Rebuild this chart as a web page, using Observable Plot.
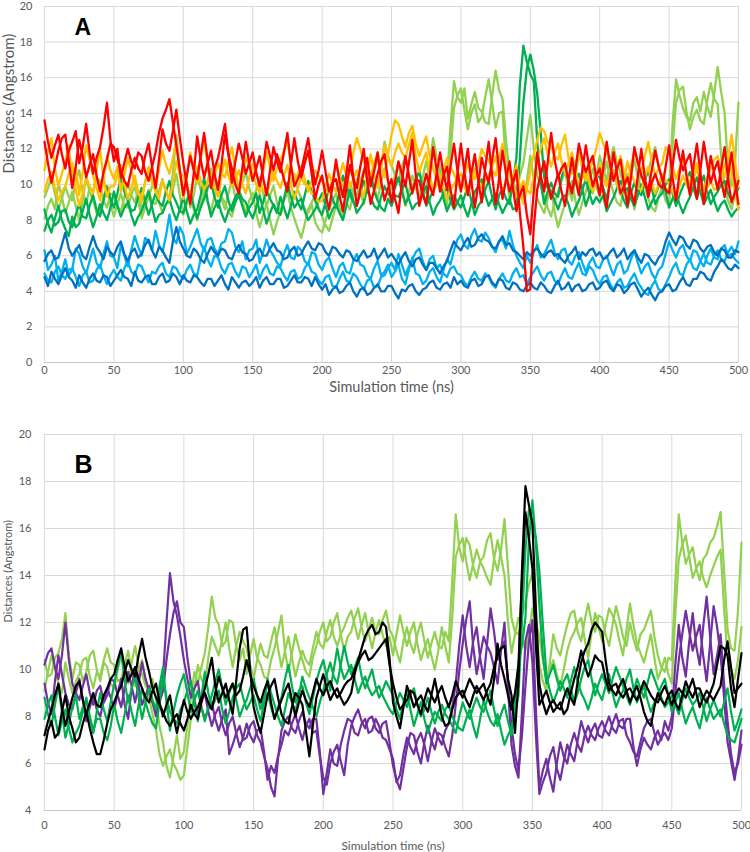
<!DOCTYPE html>
<html>
<head>
<meta charset="utf-8">
<script src="https://cdn.jsdelivr.net/npm/d3@7"></script>
<script src="https://cdn.jsdelivr.net/npm/@observablehq/plot@0.6"></script>
<style>
  body { margin: 0; background: #fff; }
  #chart { width: 750px; height: 852px; position: relative; }
  #chart svg { display: block; }
</style>
</head>
<body>
<div id="chart"></div>
<script>
// ---------- shared ----------
const step = 2.5; // sampling interval (ns)
const xTicks = [0, 50, 100, 150, 200, 250, 300, 350, 400, 450, 500];
const yTicksA = [0, 2, 4, 6, 8, 10, 12, 14, 16, 18, 20];
const yTicksB = [4, 6, 8, 10, 12, 14, 16, 18, 20];
const xTitle = "Simulation time (ns)";
const yTitle = "Distances (Angstrom)";
const panelA = "A";
const panelB = "B";

// ---------- Panel A series (values every 2.5 ns, 0–500) ----------
const blueLightA1 = [
6.3,5.2,5.5,6.0,4.6,5.1,5.8,4.9,5.2,6.4,6.1,5.4,5.0,5.7,6.4,5.6,5.3,6.1,6.8,6.0,
5.9,5.3,6.6,6.0,5.4,6.3,7.1,6.5,6.0,7.0,6.8,6.3,7.4,6.6,6.2,7.1,8.3,7.0,6.7,7.6,
7.2,6.1,6.5,7.0,7.5,6.7,6.3,6.9,7.0,6.4,6.1,6.7,6.8,7.5,7.3,6.5,6.2,6.8,5.8,6.3,
6.4,6.9,5.6,6.2,6.9,6.3,6.0,5.6,5.4,6.1,6.6,5.9,5.8,6.5,6.3,5.7,5.5,6.2,6.1,5.5,
5.2,5.7,5.9,5.3,4.8,5.4,5.6,5.1,5.0,5.7,6.1,5.5,5.4,4.9,4.7,5.3,5.7,4.9,5.1,5.5,
4.8,5.1,5.5,4.7,4.4,5.2,5.9,5.0,4.9,4.4,4.6,5.1,5.3,4.8,4.5,5.2,5.8,5.5,6.3,6.9,
7.2,6.6,6.4,7.1,7.5,6.9,6.8,7.3,7.0,6.5,6.2,6.8,6.9,6.4,7.4,6.6,6.0,5.6,5.3,6.0,
5.6,6.2,6.6,5.9,6.1,6.5,6.9,6.2,5.8,6.3,6.4,5.7,5.5,6.0,6.2,5.6,5.1,5.6,5.9,5.4,
5.3,5.8,6.0,5.4,4.9,5.5,5.7,5.0,5.2,5.8,6.3,5.6,5.0,5.4,5.6,5.0,4.7,5.2,5.4,6.1,
6.8,6.3,5.9,6.4,6.6,6.0,5.7,6.3,6.2,5.7,5.4,6.0,6.4,5.9,5.8,6.4,6.6,6.0,6.1,5.8,
5.6];
const blueLightA2 = [
5.0,4.6,4.5,5.1,5.4,4.9,4.7,5.2,5.3,4.8,4.3,4.9,5.1,4.5,4.6,5.2,5.5,4.9,4.4,4.9,
5.2,4.8,4.6,5.3,5.7,5.1,4.9,5.5,5.4,4.9,4.5,5.1,5.0,5.4,5.6,5.0,4.8,5.4,5.3,4.9,
4.7,5.2,5.5,5.0,4.9,5.8,6.5,5.8,5.4,6.0,5.9,5.3,5.0,5.5,5.6,5.1,4.8,5.4,5.3,4.8,
5.1,5.5,4.7,5.2,5.5,5.0,4.9,5.4,5.3,4.9,4.6,5.1,5.2,4.7,4.8,5.3,5.6,5.1,5.0,4.6,
4.4,4.8,4.9,4.3,4.2,4.7,5.1,4.6,4.5,5.0,4.8,4.4,4.1,4.6,4.7,4.2,4.3,4.8,4.9,5.3,
5.6,5.2,6.1,5.5,4.9,5.4,5.8,6.2,6.4,5.7,5.2,5.8,6.0,5.3,5.5,5.0,4.8,5.3,5.4,5.0,
4.9,4.5,4.3,4.8,5.1,4.7,4.6,5.0,4.8,4.4,4.2,4.7,5.0,4.6,4.5,5.0,5.3,4.8,4.9,4.4,
4.8,5.1,5.4,4.9,4.6,5.0,5.1,4.6,4.4,4.9,5.3,4.8,4.7,5.2,5.6,5.0,4.9,5.4,5.2,4.7,
4.4,4.8,4.9,4.4,4.1,4.5,4.7,4.2,4.3,4.7,5.0,4.5,4.2,3.9,3.8,4.3,4.6,4.1,4.0,4.4,
4.8,5.3,5.6,5.0,4.9,5.5,5.8,5.3,5.2,5.7,6.1,5.6,5.5,6.0,6.3,5.8,5.7,6.2,6.5,6.1,
6.8];
const blueDarkA1 = [
5.7,6.1,6.3,5.8,5.9,6.6,7.3,6.4,6.0,6.3,6.6,6.0,5.8,6.5,7.1,6.5,6.2,5.8,6.5,6.2,
6.0,6.5,6.8,6.1,5.7,6.2,6.4,5.9,6.1,6.6,6.9,6.3,5.9,6.5,6.3,5.9,5.6,6.8,7.6,6.8,
6.4,6.0,5.9,6.4,6.2,5.8,5.6,6.1,6.5,6.2,6.0,6.4,6.3,5.9,5.8,6.3,6.6,6.2,6.1,5.7,
5.8,6.2,6.4,6.0,6.0,6.4,6.7,6.3,6.2,5.8,5.9,6.3,6.5,6.0,6.1,6.5,6.8,6.4,6.3,6.7,
6.6,6.2,6.0,6.5,6.4,6.1,5.9,6.3,6.2,5.8,5.7,6.0,6.3,5.9,6.0,6.4,5.8,6.1,6.4,5.9,
6.1,5.8,5.5,5.9,6.2,5.7,5.4,5.8,5.9,5.5,5.2,5.6,5.6,5.3,5.0,5.4,5.7,6.3,6.8,6.5,
6.3,6.7,7.0,6.5,6.6,7.0,7.2,6.9,6.8,6.5,6.4,6.8,7.1,6.6,6.7,6.3,6.2,6.0,5.8,6.2,
6.0,6.3,6.4,6.1,5.9,6.2,6.3,6.0,6.1,5.8,5.6,6.0,6.2,6.5,5.8,6.2,6.0,6.3,6.4,6.0,
6.2,5.8,5.9,6.2,6.4,5.9,6.1,6.4,5.8,6.1,6.3,5.9,5.6,6.1,6.0,5.7,5.5,5.9,6.1,6.8,
7.3,6.9,6.6,7.1,7.0,6.6,6.4,6.9,6.8,6.4,6.2,6.5,6.6,6.2,6.0,6.4,6.3,5.9,5.9,6.3,
6.2];
const blueDarkA2 = [
4.8,4.3,5.1,4.7,4.4,4.9,5.3,4.8,4.6,4.2,4.9,4.5,4.2,4.7,5.0,4.6,4.5,4.9,4.8,4.3,
4.6,4.9,5.2,4.8,4.7,4.3,5.1,4.6,4.5,4.8,4.9,4.4,4.4,4.8,5.0,4.5,4.6,5.0,4.8,4.4,
4.9,4.6,4.5,4.9,4.8,4.5,4.3,4.7,4.7,4.3,4.6,4.9,4.4,4.1,4.8,4.5,4.2,4.5,4.6,4.3,
4.5,4.8,4.2,4.6,4.8,4.4,4.4,4.7,4.7,4.2,4.3,4.6,4.9,4.5,4.5,4.8,4.7,4.3,4.8,4.4,
4.1,4.4,3.8,4.1,4.3,3.9,4.0,4.3,4.5,4.0,3.7,4.1,4.2,3.8,3.9,4.2,4.4,4.0,4.0,4.3,
4.3,3.9,3.6,4.1,4.0,4.3,4.4,4.0,3.8,4.1,4.2,4.5,4.6,4.2,4.1,4.4,4.5,4.2,4.8,4.4,
4.6,4.3,4.2,4.6,4.7,4.3,4.4,4.8,4.9,4.5,4.3,4.7,4.6,4.2,4.1,4.5,4.4,4.1,4.0,4.3,
4.5,4.2,4.1,4.5,4.3,4.0,3.9,4.3,4.6,4.1,4.2,4.5,4.0,4.3,4.4,4.0,4.1,4.4,4.5,4.1,
4.2,4.5,4.6,4.2,4.0,4.4,4.3,3.9,4.1,4.4,4.5,4.1,3.7,4.0,4.2,3.8,3.5,3.9,4.0,4.3,
4.4,4.0,4.1,4.5,4.8,4.4,4.3,4.7,4.7,5.1,5.0,4.7,4.6,5.1,5.4,5.8,5.6,5.3,5.2,5.5,
5.3];
const greenLightA1 = [
9.3,9.8,10.4,9.5,8.6,9.2,9.9,9.3,9.1,10.2,10.8,9.6,8.9,9.8,9.6,10.4,10.2,9.1,8.7,9.5,
9.4,8.8,8.5,9.3,10.1,9.4,9.0,9.6,8.6,9.1,9.7,9.0,8.9,9.6,10.3,9.5,9.2,10.6,12.8,10.8,
9.6,10.2,8.7,9.4,10.5,9.7,9.3,10.2,10.9,10.1,9.8,9.2,8.6,9.5,10.2,9.3,9.5,10.1,10.7,9.8,
9.1,9.7,10.4,9.5,8.8,9.4,9.9,9.0,8.3,9.1,9.5,10.1,10.6,9.7,9.2,8.6,8.4,8.9,7.9,7.5,
7.3,8.0,8.6,9.1,9.5,8.7,8.2,9.3,10.1,9.5,9.4,10.2,10.8,10.3,9.9,10.7,11.4,11.0,12.4,11.6,
11.1,10.5,10.2,11.0,11.6,10.6,9.8,10.4,10.7,10.0,9.5,11.1,12.6,11.5,11.0,10.6,10.3,13.2,15.8,14.9,
14.6,15.4,13.7,14.5,15.2,14.3,14.1,13.5,13.4,15.0,16.4,15.3,14.8,12.5,10.6,10.1,9.7,10.5,11.2,12.6,
13.9,12.0,10.5,9.9,9.4,8.7,8.2,9.0,9.6,10.2,10.7,9.8,9.1,10.3,11.8,11.0,10.4,9.8,9.5,10.4,
11.6,10.9,10.2,11.3,12.1,11.2,10.6,9.9,9.3,10.5,11.4,10.4,9.8,10.3,10.7,11.5,12.1,11.0,10.3,9.8,
9.6,13.4,15.9,15.0,14.3,13.8,13.6,14.6,14.9,14.1,15.2,14.4,13.8,15.1,16.6,15.2,14.0,10.8,9.9,11.2,
14.6];
const greenLightA2 = [
8.1,8.8,9.2,8.6,10.1,9.3,8.4,9.0,9.6,8.8,8.0,9.1,10.4,9.6,9.1,8.4,8.5,9.3,9.8,8.9,
8.2,8.9,9.5,8.8,8.7,9.4,9.9,9.1,8.1,8.7,9.3,9.9,10.1,9.0,8.4,8.9,9.0,9.7,10.6,9.4,
8.3,8.9,9.4,8.6,8.0,8.9,9.6,9.0,8.5,9.4,10.1,9.3,9.0,8.5,8.2,9.0,9.7,9.1,8.4,9.1,
9.5,8.4,7.6,8.3,8.9,8.0,7.2,7.9,8.5,9.2,9.6,8.7,8.1,7.5,7.0,7.8,8.6,9.0,9.4,8.7,
8.2,7.7,7.4,8.1,8.8,9.3,9.7,9.0,8.6,9.5,10.3,9.6,8.9,9.8,10.6,9.9,9.2,10.1,10.9,10.2,
9.7,10.5,11.2,10.0,8.8,9.6,10.5,9.8,9.2,10.4,11.3,10.4,9.6,10.3,10.9,9.5,8.7,11.8,14.3,15.0,
15.4,14.2,13.1,14.0,14.5,13.5,13.8,14.9,15.9,14.6,13.2,14.0,14.1,11.0,9.2,9.9,10.6,9.8,9.1,10.2,
11.6,10.3,9.2,8.8,8.4,9.2,9.7,8.5,7.6,8.3,8.9,9.6,10.2,9.1,8.3,9.0,9.6,10.3,10.9,9.9,
9.3,10.4,11.3,10.2,9.5,9.0,8.8,9.8,10.6,9.5,8.6,9.8,10.9,9.9,9.2,8.7,8.5,9.3,9.9,9.1,
8.8,12.2,14.6,15.3,15.5,14.1,13.1,13.8,14.2,13.6,13.4,14.7,15.7,14.8,14.5,11.6,9.7,9.1,8.6,9.5,
10.4];
const greenA1 = [
7.4,8.0,8.3,7.7,7.9,8.5,8.6,7.9,7.6,8.3,8.9,8.2,8.1,8.8,9.4,8.6,8.2,9.1,9.9,9.2,
8.7,9.5,10.4,9.6,9.1,8.5,8.6,9.3,9.8,9.0,8.3,8.9,9.5,9.0,8.8,9.6,10.2,9.4,9.0,8.5,
8.4,9.1,9.6,8.8,8.1,8.7,9.2,9.8,10.1,9.3,8.7,9.4,9.9,9.1,8.5,9.0,9.4,8.8,8.2,8.7,
9.0,9.5,8.4,9.0,9.7,9.2,8.8,8.4,9.3,8.7,8.1,8.8,9.6,9.0,8.6,9.4,10.2,9.6,9.1,8.6,
8.3,9.0,9.8,9.2,8.7,9.6,10.5,9.8,9.4,9.0,8.8,9.5,10.2,9.6,9.3,8.8,8.6,9.3,9.9,9.5,
9.2,9.8,10.4,9.6,8.9,9.3,9.6,10.2,10.8,9.7,8.8,9.2,9.7,10.0,10.3,9.2,8.5,9.0,9.4,9.0,
8.7,9.3,9.9,9.1,8.3,8.8,9.1,9.7,10.2,9.3,8.6,9.4,9.8,9.2,8.9,10.2,11.5,15.6,17.8,16.9,
16.2,15.8,12.4,10.1,8.9,9.6,10.1,9.5,9.3,10.4,11.0,10.2,9.7,10.3,10.6,9.7,8.8,9.4,9.9,10.5,
10.4,9.8,9.2,10.1,10.8,10.0,9.6,9.1,8.7,9.5,10.1,9.6,9.4,10.2,10.9,9.8,8.9,9.3,9.5,10.0,
10.3,9.5,8.8,9.4,9.9,10.3,10.7,9.8,9.2,9.9,10.5,9.6,8.9,9.3,9.6,10.0,10.2,9.5,9.1,9.4,
9.8];
const greenA2 = [
8.6,7.8,7.3,8.1,8.8,8.0,7.5,7.1,8.2,7.6,7.8,8.5,9.2,8.3,7.6,8.2,8.9,8.4,8.0,8.7,
9.6,8.8,8.2,8.7,9.0,8.3,7.7,8.2,8.5,9.1,9.6,8.7,7.9,8.3,8.4,8.9,9.2,8.5,8.0,8.6,
9.3,8.5,7.8,8.3,8.6,9.4,10.4,9.1,8.2,8.7,9.1,8.4,7.9,8.5,8.8,9.3,9.6,9.2,9.0,8.5,
8.1,8.7,9.4,8.6,7.8,8.4,8.9,8.5,8.3,9.2,10.1,9.3,8.7,9.0,9.2,8.5,8.0,8.3,8.6,9.1,
9.5,8.8,8.1,8.6,8.9,8.4,8.0,8.8,9.7,9.1,8.4,8.7,9.0,9.8,10.6,9.6,9.1,8.7,8.5,9.2,
8.8,9.4,9.3,9.7,10.1,9.2,8.6,8.9,9.0,9.5,9.9,9.0,8.3,8.8,9.1,9.5,9.8,9.1,8.6,9.0,
9.4,8.7,8.2,8.9,9.6,9.9,10.3,9.4,8.8,9.2,9.5,8.9,8.4,8.8,9.2,8.6,8.7,11.5,14.6,16.5,
17.3,16.4,15.1,12.9,10.4,9.8,9.6,9.1,8.6,9.2,9.4,8.9,8.2,8.7,9.1,9.7,10.3,9.5,8.9,9.3,
9.0,9.4,8.5,8.9,9.3,9.8,10.2,9.6,9.8,9.2,8.8,9.4,10.0,9.3,8.6,9.0,9.4,9.9,10.5,9.6,
8.7,9.2,9.5,8.9,8.4,8.9,9.3,9.9,10.4,9.6,8.9,9.3,9.7,9.1,8.5,8.9,9.1,8.6,8.2,8.5,
8.7];
const orangeA1 = [
10.8,11.9,12.6,10.9,9.9,10.6,11.3,12.2,10.2,11.0,9.4,10.7,12.2,11.4,10.5,9.8,9.1,10.2,11.6,10.8,
10.3,11.0,9.6,10.5,11.5,10.8,10.0,9.5,9.3,10.1,10.8,10.2,9.7,10.9,11.9,11.1,10.6,11.5,12.4,10.7,
9.2,10.4,11.8,10.9,10.1,11.4,12.6,11.0,9.8,10.5,11.2,10.6,10.4,11.3,12.1,10.8,9.7,10.6,11.5,11.0,
10.6,10.0,9.5,10.7,11.8,11.0,10.2,10.9,11.4,11.9,12.4,11.2,10.1,10.6,11.0,10.3,9.6,10.2,10.8,10.5,
10.2,9.8,9.5,10.3,11.1,10.4,9.9,10.2,10.7,11.8,12.6,12.0,11.3,10.8,10.5,11.2,11.8,11.0,10.4,11.7,
12.8,13.6,13.4,12.7,12.1,12.9,13.3,12.3,11.6,12.2,12.7,11.6,10.9,10.3,9.8,10.7,11.5,11.0,10.6,10.1,
9.7,10.5,11.2,10.6,10.3,11.1,12.0,11.6,11.4,10.8,10.5,11.5,12.3,10.9,9.6,10.4,11.1,9.8,8.9,9.7,
10.8,11.7,12.5,13.2,13.0,12.4,12.1,11.6,11.4,12.2,12.8,11.5,10.6,11.2,11.7,10.9,10.2,10.8,11.3,12.0,
12.9,12.3,11.8,11.1,10.4,11.0,11.6,10.7,10.1,11.0,11.9,11.2,10.7,11.6,12.4,11.3,10.5,10.9,11.2,12.1,
11.8,11.0,10.3,10.9,11.5,10.6,10.0,10.7,11.2,10.3,9.7,10.4,10.9,11.4,11.6,10.8,10.4,11.5,12.8,11.3,
9.9];
const orangeA2 = [
9.6,10.3,10.7,9.8,9.1,9.6,9.9,10.6,11.2,9.7,8.8,9.5,10.4,9.9,9.5,10.8,12.0,10.4,9.3,9.9,
9.9,10.5,11.1,10.0,9.2,9.8,10.5,9.6,9.0,10.2,11.0,10.1,9.6,9.2,10.2,9.7,9.1,10.1,11.3,10.6,
10.5,9.8,9.4,10.3,11.0,10.2,9.7,10.1,10.6,9.8,9.3,10.5,11.4,10.5,9.9,10.3,10.8,10.0,9.5,10.4,
11.2,10.5,10.1,9.7,9.4,10.1,10.7,10.2,9.8,10.5,11.1,10.0,9.2,9.8,10.4,10.0,9.9,9.5,9.4,9.0,
9.1,9.9,10.6,10.0,9.6,10.4,11.2,10.5,9.9,10.3,10.8,9.9,9.3,10.5,11.7,10.6,9.8,11.0,12.2,11.5,
11.0,11.8,12.3,11.8,11.5,12.2,12.9,11.6,10.7,11.3,11.8,10.6,9.6,10.0,10.5,9.8,9.2,9.7,10.0,10.4,
10.6,9.9,9.4,10.1,10.9,10.3,9.8,10.2,10.5,11.0,11.6,10.4,9.5,10.1,10.8,9.9,9.3,9.8,10.2,9.7,
9.5,10.4,11.3,12.0,12.6,11.7,11.0,11.8,12.3,11.3,10.6,11.2,11.8,10.8,9.9,10.4,10.7,10.1,9.6,10.3,
11.1,10.4,9.9,10.5,10.8,10.0,9.4,10.2,11.3,10.6,10.2,9.8,9.7,10.4,11.0,10.1,9.5,10.0,10.6,10.2,
10.1,9.6,9.2,9.9,10.5,10.0,9.6,10.3,10.9,10.1,9.3,9.8,10.2,9.7,9.8,10.5,11.1,11.6,10.7,9.5,
8.6];
const redA1 = [
13.6,12.4,11.5,12.2,12.8,11.7,10.9,11.9,12.4,13.0,11.2,12.1,13.4,11.8,10.6,11.5,12.1,13.2,14.6,12.5,
11.3,12.0,10.4,11.2,12.0,11.3,10.9,11.8,11.6,10.7,10.2,11.0,11.8,12.9,13.7,14.2,14.8,13.5,12.2,10.8,
9.4,10.5,11.6,10.8,10.3,11.6,12.9,11.4,9.8,10.9,11.5,12.4,13.4,11.7,10.1,11.3,12.3,11.5,10.6,11.2,
11.8,10.7,9.9,11.0,12.4,11.6,10.8,11.7,11.1,10.3,9.6,11.1,12.6,11.3,10.4,11.2,11.9,10.6,9.2,10.0,
10.5,9.4,8.6,9.9,11.4,10.2,9.3,10.6,12.2,10.4,8.8,9.7,10.7,11.5,9.9,10.8,11.8,10.2,9.1,9.8,
10.3,9.2,8.4,10.1,11.6,10.5,9.5,10.3,10.2,9.4,8.9,10.4,12.1,10.8,9.6,10.5,11.0,9.7,8.7,10.6,
12.3,10.7,9.4,10.6,11.7,10.2,9.0,10.9,12.4,10.5,8.9,10.3,11.9,10.6,9.6,10.1,10.8,8.4,6.5,4.0,
4.1,7.6,9.7,10.6,11.3,10.1,9.2,9.9,10.6,9.6,8.8,10.2,11.5,10.3,9.4,10.8,12.2,10.9,9.9,10.5,
10.9,9.6,8.7,10.3,11.8,10.6,9.5,9.9,10.4,9.6,8.9,10.5,12.0,10.4,9.3,10.1,10.6,10.0,9.8,11.0,
12.2,10.4,9.1,10.6,11.9,10.5,9.4,11.0,12.3,10.7,8.9,10.2,11.6,10.6,9.7,10.9,12.1,10.3,9.0,9.6,
10.2];
const redA2 = [
12.4,11.2,10.1,11.0,11.9,12.6,12.8,11.3,9.8,11.0,12.5,11.6,10.4,11.1,11.7,10.5,9.6,10.7,11.4,12.3,
12.1,11.4,10.8,10.2,9.9,10.8,11.5,10.9,10.6,11.6,12.3,11.0,9.8,11.4,13.1,12.3,11.9,13.0,14.2,12.6,
11.2,10.0,8.9,10.6,12.7,11.4,10.4,11.2,11.9,10.6,9.7,11.1,12.8,11.7,10.9,10.0,9.5,10.9,12.4,11.2,
10.2,10.9,11.6,10.4,9.4,10.8,12.1,11.3,10.7,11.8,12.9,11.1,9.9,10.3,10.8,11.7,12.6,11.2,10.0,10.8,
11.9,10.7,9.6,10.1,10.3,9.4,8.5,9.8,11.1,10.3,9.8,11.0,12.0,10.2,8.9,9.7,10.6,11.3,11.7,10.2,
9.0,10.1,11.3,10.6,9.9,11.2,12.5,10.5,8.8,9.7,10.6,9.9,9.4,10.6,11.8,10.6,9.7,11.0,12.3,10.8,
9.6,10.8,12.0,10.2,8.7,10.0,11.5,10.7,10.1,11.4,12.6,10.8,9.2,10.3,11.3,9.8,8.5,9.4,9.9,8.3,
7.2,9.6,11.8,10.5,9.6,11.2,12.9,11.4,10.4,10.9,11.2,10.2,9.5,10.8,12.3,11.4,10.7,11.2,11.6,10.4,
9.4,10.9,12.4,11.1,10.2,10.9,11.4,10.0,8.8,10.4,12.1,11.2,10.5,10.0,9.7,10.8,11.9,11.0,10.3,9.7,
9.5,11.0,12.5,11.5,10.8,11.3,11.7,10.4,9.2,10.8,12.4,11.1,10.1,10.8,11.3,10.2,9.3,10.5,11.8,10.1,
8.9];

// ---------- Panel B series (values every 2.5 ns, 0–500) ----------
const greenLightB1 = [
10.4,9.7,9.8,10.5,10.7,11.3,12.4,10.6,9.6,10.3,10.2,9.5,9.9,10.6,10.8,10.0,9.5,10.3,10.1,9.4,
9.2,10.0,10.6,9.8,9.4,10.3,11.0,10.1,9.8,9.3,9.1,9.6,8.7,7.6,6.9,5.9,5.4,6.3,7.2,6.2,
6.5,7.6,8.8,9.9,9.4,10.1,10.7,11.8,13.1,12.2,11.9,11.0,11.2,12.1,12.0,11.0,10.4,10.9,9.8,10.6,
11.3,10.5,10.2,9.7,9.6,10.4,10.9,11.6,12.3,10.8,9.9,10.7,11.5,10.9,10.4,9.9,9.7,10.5,11.0,11.6,
12.0,11.2,11.4,12.0,12.4,11.5,10.8,11.4,11.6,12.2,12.6,11.8,11.2,11.7,12.2,11.6,11.5,12.1,12.5,11.7,
11.4,10.8,10.3,11.2,11.8,11.1,10.7,11.5,12.0,11.2,10.5,11.1,11.6,11.0,10.9,11.6,11.2,13.8,16.6,15.2,
14.6,15.6,15.3,14.4,13.9,14.6,14.8,15.5,15.8,14.7,14.2,15.1,16.4,14.3,12.2,11.6,11.5,12.3,12.9,13.6,
14.1,12.0,10.2,9.5,9.1,10.3,11.5,10.9,10.6,11.3,11.9,12.4,12.5,11.6,11.2,12.1,12.8,12.0,11.6,12.3,
12.2,11.5,11.0,11.9,12.7,12.1,11.4,11.0,12.0,11.3,10.8,11.5,11.7,12.1,12.5,11.4,10.6,10.1,9.9,10.5,
10.4,13.7,16.6,15.4,14.5,14.9,15.2,14.3,13.8,14.7,14.9,15.4,15.6,16.1,16.7,14.2,11.7,10.9,10.8,12.5,
15.4];
const greenLightB2 = [
9.1,9.9,10.6,10.0,9.4,9.0,10.3,9.6,9.0,9.5,9.8,10.4,10.5,9.7,9.2,9.9,9.7,10.4,10.9,10.3,
10.2,9.5,9.6,10.2,10.8,9.9,9.3,9.9,10.4,9.5,8.8,8.1,7.4,6.4,5.9,6.3,6.6,6.0,5.7,5.3,
5.5,6.7,7.9,9.1,10.2,9.6,9.3,10.5,11.4,11.0,10.6,11.3,12.0,10.9,10.1,11.0,11.6,11.2,10.9,10.2,
9.6,10.4,11.1,10.6,10.5,11.2,11.8,10.9,10.1,10.8,11.4,10.5,9.7,10.3,10.8,10.4,10.2,10.9,11.6,11.1,
10.9,11.6,12.1,11.4,11.0,11.5,11.8,12.2,12.5,11.9,11.3,11.9,12.4,11.6,10.9,11.6,12.1,11.5,11.0,11.4,
10.6,11.5,12.3,11.6,11.0,11.6,12.0,11.1,10.4,10.9,11.3,10.6,10.0,10.8,11.8,11.0,10.3,12.2,14.8,15.3,
15.6,14.6,13.8,14.5,15.1,14.6,14.3,13.9,13.6,14.7,15.5,14.8,14.0,12.0,10.7,11.5,12.2,11.4,10.8,11.6,
12.6,12.0,11.4,10.4,9.6,10.0,10.4,9.8,9.3,10.0,10.8,11.3,11.6,12.0,12.2,11.3,10.5,11.6,12.4,11.8,
11.2,11.9,12.6,12.3,11.9,11.2,10.6,11.7,12.8,11.9,11.1,10.7,10.3,10.9,11.5,10.5,9.6,10.0,10.5,9.8,
9.4,12.3,14.7,15.3,15.7,14.8,13.9,14.3,14.6,13.9,13.5,14.0,14.4,14.8,15.1,12.6,10.5,10.0,9.6,10.4,
11.8];
const purpleB1 = [
10.2,10.7,10.9,10.1,9.6,10.6,12.0,10.4,9.4,9.0,8.7,9.3,9.8,9.0,8.5,9.1,9.3,8.6,8.9,9.6,
9.5,8.9,8.4,9.2,9.9,9.3,8.6,9.4,10.3,9.6,9.1,8.6,8.2,8.9,9.7,12.0,14.1,12.9,12.3,11.4,
10.4,9.6,8.8,9.2,9.5,8.4,7.9,8.3,8.6,7.9,7.4,7.9,8.3,6.4,6.8,7.3,7.6,7.0,7.1,7.6,
7.8,7.2,6.9,6.3,5.8,5.0,4.6,6.2,7.4,7.8,8.0,7.5,7.3,7.8,8.2,7.7,7.5,7.9,7.9,6.5,
4.7,5.6,6.6,6.0,5.9,6.8,7.4,7.9,7.8,7.3,7.2,7.7,7.9,7.3,7.4,7.9,7.6,7.1,7.0,6.6,
6.2,5.2,5.5,6.4,7.1,6.7,6.4,7.0,7.3,6.8,6.1,6.9,7.5,7.1,6.8,7.4,7.7,8.4,9.4,11.0,
12.3,11.0,10.1,11.2,11.8,10.5,9.6,11.1,12.6,11.6,10.4,10.9,11.2,9.4,7.6,6.4,5.7,7.2,9.3,11.2,
12.1,8.3,5.0,5.7,6.2,5.4,4.8,6.0,6.9,6.3,6.0,6.8,7.3,6.8,6.5,7.2,7.6,7.2,7.0,7.5,
7.8,7.4,7.2,7.7,8.1,7.6,7.5,7.9,7.9,6.7,5.9,6.6,7.1,6.8,6.6,7.1,7.4,7.0,7.8,7.4,
8.0,10.2,11.9,10.5,9.7,11.2,12.4,11.0,10.2,11.8,13.1,11.4,9.8,10.6,11.5,9.4,7.8,6.4,5.6,6.0,
6.8];
const purpleB2 = [
9.4,8.6,8.1,9.5,10.6,9.8,9.0,8.5,8.3,9.0,9.6,8.7,7.8,8.4,8.9,8.3,8.0,8.7,9.2,8.8,
8.3,9.0,9.6,8.5,7.9,9.2,10.1,9.3,8.5,8.9,9.3,8.6,8.0,8.6,9.1,10.4,11.5,12.4,12.9,12.0,
11.8,10.5,9.4,8.7,8.1,8.6,9.0,8.2,7.6,8.1,8.4,7.7,7.2,7.7,8.0,7.3,6.7,7.1,7.7,7.2,
6.9,7.4,7.5,6.5,5.3,5.9,5.6,6.3,6.8,7.4,7.2,7.7,8.1,7.5,7.0,7.6,7.9,7.3,7.4,6.3,
5.4,5.1,6.0,6.5,6.8,6.1,5.5,6.8,7.6,8.0,8.3,7.8,7.5,7.9,8.0,7.5,7.3,7.7,7.8,6.9,
5.9,5.3,4.9,5.8,6.7,7.3,7.2,6.5,6.0,6.9,7.6,7.0,6.6,7.3,7.2,6.7,6.3,7.2,8.5,9.9,
11.1,12.1,12.9,11.0,9.8,10.6,11.4,11.0,10.7,10.1,9.4,10.8,12.0,9.2,6.8,5.9,5.4,8.2,11.2,11.9,
10.3,7.2,4.7,5.2,5.6,6.3,6.7,5.8,5.3,6.1,6.8,6.4,6.1,7.0,7.8,7.3,6.9,7.4,7.7,7.2,
7.1,7.6,8.0,7.5,7.3,7.8,7.9,7.2,6.9,6.5,6.3,6.9,7.5,7.8,7.9,7.3,6.8,7.1,7.3,7.0,
7.5,9.0,10.4,11.5,12.5,11.6,10.8,11.4,11.9,10.6,9.5,11.1,12.7,11.8,10.6,8.8,6.9,6.1,5.3,6.2,
7.4];
const greenB1 = [
8.8,8.1,7.6,8.5,9.3,8.2,7.1,7.7,8.4,8.9,7.9,8.4,8.7,7.9,7.3,8.2,9.0,8.3,7.8,8.6,
9.4,10.1,10.8,9.5,8.6,9.2,9.7,8.8,7.9,8.6,9.2,8.7,8.3,9.3,10.1,8.6,7.4,8.2,8.9,9.4,
9.8,9.0,8.2,8.7,9.1,8.4,7.8,8.4,8.9,9.5,10.0,9.2,8.5,9.0,9.4,8.7,8.0,8.4,8.7,9.2,
9.6,8.9,8.3,8.8,9.0,8.4,7.9,8.4,8.8,9.6,10.2,9.3,8.6,9.1,9.3,8.6,8.1,8.8,9.5,10.0,
10.4,9.7,9.1,10.0,10.9,10.1,9.6,9.9,10.2,9.6,9.0,9.4,9.7,9.2,8.9,9.1,9.3,8.9,8.6,8.3,
8.1,8.6,9.0,8.7,8.4,8.9,9.2,8.5,8.0,8.3,8.8,8.2,7.7,8.2,8.5,8.1,7.9,7.6,7.3,8.0,
8.6,8.2,7.9,8.4,8.8,8.4,8.2,8.7,9.1,8.3,7.6,8.1,8.5,7.8,7.2,8.6,10.3,11.0,12.2,15.5,
17.2,15.4,12.7,10.6,9.4,9.8,10.2,9.6,9.1,9.5,9.8,9.2,8.6,9.0,9.6,10.1,10.4,9.6,8.9,9.4,
9.8,9.4,9.0,9.6,10.1,9.7,9.3,8.9,8.5,9.0,9.6,9.2,8.8,9.4,10.0,9.6,9.2,8.8,8.4,8.6,
8.9,8.5,8.1,8.7,9.2,8.8,8.5,8.7,9.0,8.4,7.8,8.3,8.7,8.3,8.0,8.6,9.2,8.2,7.4,7.8,
8.3];
const greenB2 = [
7.9,8.5,8.9,8.0,7.2,7.8,8.3,7.5,6.9,7.3,7.6,8.2,8.8,8.0,7.4,7.9,7.9,7.3,7.0,7.6,
8.5,7.8,7.3,8.1,8.9,8.2,7.6,8.5,9.2,8.6,8.1,7.7,7.5,8.6,9.6,8.8,8.2,7.9,7.7,8.3,
8.6,9.1,9.5,8.6,7.8,8.8,9.9,9.0,8.4,8.7,9.1,8.3,7.7,8.2,8.8,9.2,9.4,8.8,8.3,8.6,
8.9,8.3,7.8,8.6,9.6,9.0,8.5,8.0,7.6,8.3,9.0,8.6,8.2,8.9,9.7,9.2,8.8,8.4,8.0,8.6,
9.1,9.8,10.3,9.7,9.4,10.2,11.0,10.3,9.8,10.1,10.5,9.7,9.2,9.6,10.0,9.3,8.8,9.1,9.5,9.2,
8.9,8.3,7.9,8.6,9.1,8.3,7.6,8.1,8.6,7.9,7.3,7.8,8.2,8.0,7.8,8.3,8.5,8.0,7.7,7.5,
7.4,7.9,8.3,7.6,7.1,7.9,8.7,8.2,7.8,7.6,8.1,7.4,6.8,7.2,7.5,8.1,8.9,12.0,15.1,16.8,
16.3,15.6,14.2,11.9,9.8,9.1,8.6,9.0,9.5,9.2,8.8,9.5,10.1,9.5,9.0,8.7,8.3,8.8,9.4,9.0,
8.7,9.3,9.8,9.0,8.4,8.8,9.1,9.6,10.0,9.2,8.6,9.0,9.3,8.7,8.2,8.6,8.9,9.3,9.6,8.9,
8.2,8.6,9.0,8.3,7.7,8.1,8.4,7.9,7.5,8.2,8.8,8.3,7.9,8.1,8.3,7.7,7.2,7.0,6.9,7.4,
7.9];
const blackB1 = [
6.6,7.4,7.8,7.1,7.3,8.2,8.9,8.0,7.5,6.9,7.1,7.7,8.2,7.5,6.9,6.4,6.4,7.0,7.7,8.3,
8.6,9.0,9.3,9.9,10.4,10.0,9.7,10.6,11.3,10.5,9.9,9.2,8.8,8.5,8.2,7.8,7.6,7.9,8.1,7.7,
7.4,7.9,8.5,8.1,7.9,8.6,9.2,9.8,10.5,9.3,8.6,9.0,9.4,8.7,8.1,9.5,10.9,11.7,11.8,10.0,
8.4,7.8,7.3,8.1,8.9,9.3,9.6,8.8,8.1,7.8,7.7,8.4,9.0,8.8,8.5,7.4,6.3,7.6,8.8,9.3,
9.8,9.2,8.7,9.0,9.2,8.8,8.5,8.7,9.0,9.8,10.4,10.9,11.4,11.7,11.9,11.5,11.6,12.0,11.8,10.5,
8.6,8.0,7.5,8.4,9.3,8.9,8.4,8.7,8.9,8.5,8.2,8.9,9.6,8.8,8.0,7.6,7.7,8.3,8.8,9.0,
9.1,8.7,8.4,8.9,9.3,9.0,8.7,9.1,9.4,10.1,10.6,10.9,11.0,9.6,8.9,7.3,9.5,14.2,17.8,17.0,
16.2,12.6,9.4,8.6,8.1,8.5,8.7,8.4,8.3,8.8,9.2,8.8,8.5,9.5,10.3,10.8,11.1,11.7,12.0,11.8,
11.6,10.4,9.4,9.1,8.9,9.3,9.6,9.1,8.6,9.0,9.3,8.8,8.2,7.8,7.6,8.4,9.0,8.7,8.5,8.9,
9.1,8.6,8.3,8.9,9.5,9.1,8.8,9.2,9.2,8.8,8.6,9.0,9.4,10.2,11.0,10.9,10.6,9.2,8.4,9.6,
10.7];
const blackB2 = [
7.2,7.8,8.3,8.9,9.4,8.4,7.6,8.2,8.8,9.3,9.5,8.7,8.1,8.6,9.0,8.5,8.4,8.9,9.2,9.6,
9.8,10.4,10.9,10.1,9.5,9.8,10.1,9.6,9.2,8.8,8.6,9.1,9.4,8.6,8.0,8.5,8.9,8.0,7.3,8.0,
8.7,8.2,7.9,8.2,8.4,8.8,9.0,8.6,8.3,9.0,9.7,9.2,8.8,9.1,9.4,8.9,9.1,9.7,10.4,9.8,
9.3,8.9,8.6,9.1,9.5,8.6,7.9,8.3,8.7,9.1,9.4,8.7,8.0,8.6,9.1,8.7,8.4,9.0,9.6,9.2,
8.9,9.3,9.5,9.1,8.8,9.0,9.3,9.5,9.6,10.0,10.3,10.6,10.8,10.4,10.5,10.7,10.9,11.1,11.3,10.2,
9.4,8.8,8.3,8.5,8.7,9.1,9.0,8.5,8.1,8.7,9.2,8.9,8.6,9.0,9.3,8.8,8.4,8.9,9.5,9.1,
8.8,9.2,9.6,9.3,9.0,9.2,9.4,8.9,8.5,9.6,11.1,10.2,9.6,8.9,8.3,9.0,10.2,13.8,16.7,15.6,
14.3,11.0,8.5,8.8,9.1,8.6,8.2,8.4,8.6,8.1,8.3,9.0,9.6,10.1,10.8,10.2,9.7,10.1,10.6,10.4,
10.3,9.6,9.1,9.3,9.4,9.0,8.8,9.1,9.2,8.9,8.7,9.1,9.5,9.2,8.9,8.7,8.6,9.0,9.3,8.9,
8.5,8.9,9.2,9.0,8.8,9.2,9.6,9.0,8.4,8.8,9.1,8.9,8.7,9.0,9.3,10.4,11.2,10.1,9.0,9.2,
9.4];

// ---------- series definitions (drawing order) ----------
const seriesA = [
  ["lb1", blueLightA1, "#00B0F0"], ["lb2", blueLightA2, "#00B0F0"],
  ["db1", blueDarkA1, "#0070C0"], ["db2", blueDarkA2, "#0070C0"],
  ["lg1", greenLightA1, "#92D050"], ["lg2", greenLightA2, "#92D050"],
  ["g1", greenA1, "#00B050"], ["g2", greenA2, "#00B050"],
  ["o1", orangeA1, "#FFC000"], ["o2", orangeA2, "#FFC000"],
  ["r1", redA1, "#FF0000"], ["r2", redA2, "#FF0000"]
];
const seriesB = [
  ["lg1", greenLightB1, "#92D050"], ["lg2", greenLightB2, "#92D050"],
  ["p1", purpleB1, "#7030A0"], ["p2", purpleB2, "#7030A0"],
  ["g1", greenB1, "#00B050"], ["g2", greenB2, "#00B050"],
  ["k1", blackB1, "#000000"], ["k2", blackB2, "#000000"]
];

function toRows(series) {
  return series.flatMap(([name, vals]) => vals.map((v, i) => ({t: i * step, v, s: name})));
}

const fontFamily = "Lato, 'Open Sans', sans-serif";

function panel({series, height, marginTop, marginBottom, marginRight, yDomain, yTicks,
                letter, letterSize, letterDy, yTitleSize, yTitleDx, yTitleDy, xTitleSize, xTitleDy,
                tickPadX, tickPadY, strokeWidth, tickFont}) {
  const data = toRows(series);
  return Plot.plot({
    width: 750,
    height,
    marginTop, marginBottom, marginLeft: 44, marginRight,
    style: {fontFamily, fontSize: tickFont, color: "#595959", background: "#fff"},
    x: {domain: [0, 500], ticks: xTicks, tickSize: 0, tickPadding: tickPadX, label: null},
    y: {domain: yDomain, ticks: yTicks, tickSize: 0, tickPadding: tickPadY, label: null},
    color: {domain: series.map(d => d[0]), range: series.map(d => d[2])},
    marks: [
      Plot.gridX(xTicks, {stroke: "#d9d9d9", strokeOpacity: 1}),
      Plot.gridY(yTicks, {stroke: "#d9d9d9", strokeOpacity: 1}),
      Plot.ruleY([yDomain[0]], {stroke: "#c8c8c8"}),
      Plot.line(data, {x: "t", y: "v", z: "s", stroke: "s", strokeWidth, curve: "linear", strokeLinejoin: "round"}),
      Plot.text([letter], {text: d => d, frameAnchor: "top-left", textAnchor: "start", lineAnchor: "top",
        dx: 30, dy: letterDy, fontSize: letterSize, fontWeight: "bold", fill: "#000", fontFamily: "'Liberation Sans', Arial, sans-serif"}),
      Plot.text([xTitle], {text: d => d, frameAnchor: "bottom", lineAnchor: "middle", dy: xTitleDy, fontSize: xTitleSize, fill: "#595959"}),
      Plot.text([yTitle], {text: d => d, frameAnchor: "left", lineAnchor: "middle", dx: yTitleDx, dy: yTitleDy, rotate: -90, fontSize: yTitleSize, fill: "#595959"})
    ]
  });
}

const chart = document.getElementById("chart");
chart.append(panel({
  series: seriesA, height: 400, marginTop: 6, marginBottom: 38, marginRight: 12,
  yDomain: [0, 20], yTicks: yTicksA, letter: panelA, letterSize: 23, letterDy: 12,
  yTitleSize: 15, yTitleDx: -35, yTitleDy: -11, xTitleSize: 14.5, xTitleDy: 25, tickPadX: 4, tickPadY: 12,
  strokeWidth: 2.3, tickFont: "11px"
}));
chart.append(panel({
  series: seriesB, height: 452, marginTop: 34, marginBottom: 42, marginRight: 9,
  yDomain: [4, 20], yTicks: yTicksB, letter: panelB, letterSize: 25, letterDy: 21,
  yTitleSize: 11, yTitleDx: -36, yTitleDy: 0, xTitleSize: 12, xTitleDy: 36, tickPadX: 11, tickPadY: 13,
  strokeWidth: 2.2, tickFont: "11px"
}));
</script>
</body>
</html>
